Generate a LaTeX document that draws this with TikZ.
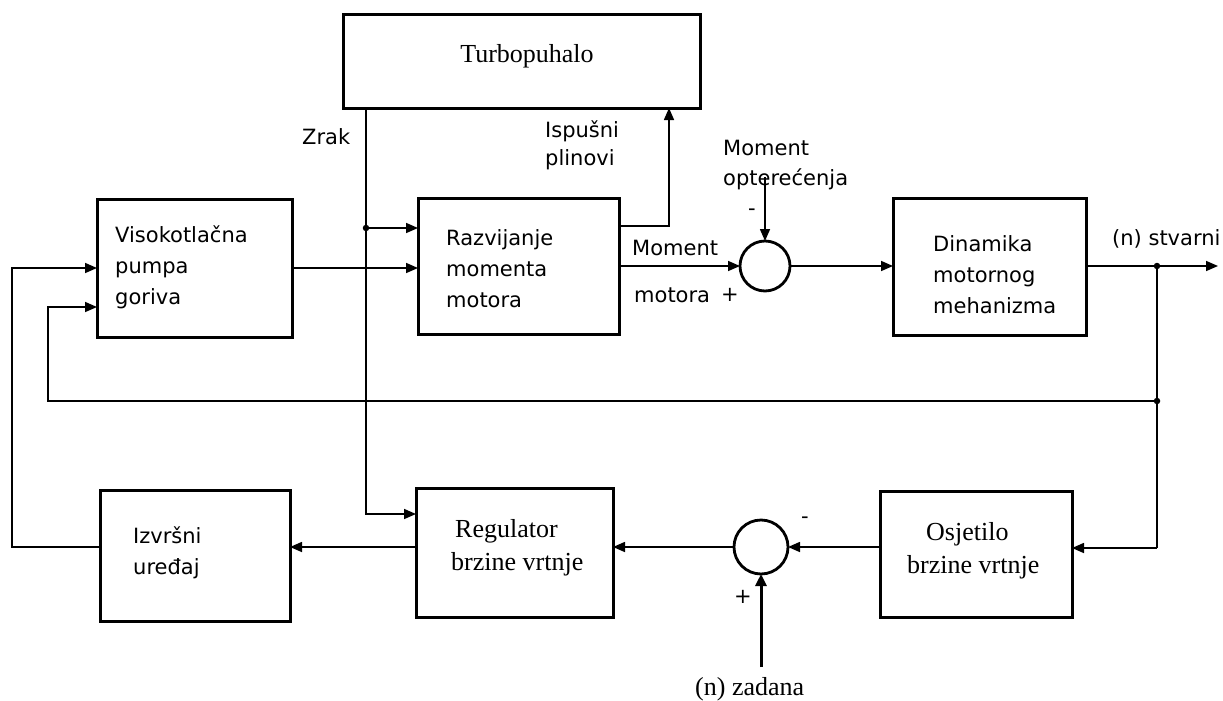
\documentclass[tikz,border=0pt]{standalone}
\usepackage{fontspec}
\setmainfont{Liberation Serif}
\newfontfamily\lblfont{DejaVu Sans}
\usetikzlibrary{arrows.meta}
\begin{document}
\begin{tikzpicture}[x=1pt,y=-1pt,
 box/.style={draw,line width=3pt,inner sep=0pt,outer sep=0pt,rectangle},
 sumnode/.style={draw,circle,line width=2.8pt,inner sep=0pt,outer sep=0pt},
 conn/.style={line width=1.6pt},
 arr/.style={conn,-{Triangle[length=12pt,width=10pt]}},
 sl/.style={font=\lblfont\fontsize{21}{25}\selectfont,inner sep=0pt,anchor=base west},
 rl/.style={font=\fontsize{26}{30}\selectfont,inner sep=0pt,anchor=base west},
 sgn/.style={font=\lblfont\fontsize{21}{25}\selectfont,inner sep=0pt},
 jdot/.style={circle,fill,inner sep=0pt,minimum size=6.5pt}]
\fill[white] (0,0) rectangle (1223,701);
\useasboundingbox (0,0) rectangle (1223,701);

% blocks
\node[box,minimum width=357pt,minimum height=93pt] (turbo) at (521.5,61.5) {};
\node[box,minimum width=195pt,minimum height=138pt] (pump) at (194.5,268) {};
\node[box,minimum width=201pt,minimum height=136pt] (razv) at (518.5,266) {};
\node[box,minimum width=193pt,minimum height=137pt] (dyn) at (989.5,266.5) {};
\node[box,minimum width=190pt,minimum height=131pt] (izv) at (195,555.5) {};
\node[box,minimum width=197pt,minimum height=129pt] (reg) at (514.5,552.5) {};
\node[box,minimum width=192pt,minimum height=126pt] (osj) at (976,554) {};
\node[sumnode,minimum size=50pt] (sum1) at (765,266) {};
\node[sumnode,minimum size=54pt] (sum2) at (761,547) {};

% texts
\node[rl,anchor=base] (tturbo) at (527,63) {Turbopuhalo};
\node[sl] (tpump1) at (115,242) {Visokotlačna};
\node[sl] (tpump2) at (115,273) {pumpa};
\node[sl] (tpump3) at (115,304) {goriva};
\node[sl] (trazv1) at (446,245) {Razvijanje};
\node[sl] (trazv2) at (446,276) {momenta};
\node[sl] (trazv3) at (446,307) {motora};
\node[sl] (tdyn1) at (933,251) {Dinamika};
\node[sl] (tdyn2) at (933,282) {motornog};
\node[sl] (tdyn3) at (933,313) {mehanizma};
\node[sl] (tizv1) at (133,543) {Izvršni};
\node[sl] (tizv2) at (133,574) {uređaj};
\node[rl] (treg1) at (455,537) {Regulator};
\node[rl] (treg2) at (451,570) {brzine vrtnje};
\node[rl] (tosj1) at (926,540) {Osjetilo};
\node[rl] (tosj2) at (907,573) {brzine vrtnje};
\node[rl] (tzad) at (695,695) {(n) zadana};
\node[sl] (tzrak) at (302,144) {Zrak};
\node[sl] (tisp1) at (545,137) {Ispušni};
\node[sl] (tisp2) at (545,165) {plinovi};
\node[sl] (tmo1) at (723,155) {Moment};
\node[sl] (tmo2) at (723,185) {opterećenja};
\node[sl] (tmm1) at (632,255) {Moment};
\node[sl] (tmm2) at (634,302) {motora};
\node[sl] (tstv) at (1112,245) {(n) stvarni};
\node[sgn] (s1m) at (752,212) {-};
\node[sgn] (s1p) at (730,295) {+};
\node[sgn] (s2m) at (805,520) {-};
\node[sgn] (s2p) at (743,597) {+};

% coordinates
\coordinate (j1) at (366,228);
\coordinate (zin) at (416,514);
\coordinate (ex) at (669,226);
\coordinate (mo) at (765,177);
\coordinate (j2) at (1157,266);
\coordinate (out) at (1218,266);
\coordinate (j3) at (1157,401);
\coordinate (fb) at (1157,548);
\coordinate (fbl) at (48,401);
\coordinate (p2) at (97,307);
\coordinate (fl) at (12,547);
\coordinate (zad) at (761,667);

% connectors
\draw[conn] (turbo.south -| j1) -- (j1);
\draw[arr] (j1) |- (zin);
\draw[arr] (j1) -- (j1 -| razv.west);
\draw[arr] (pump.east) -- (pump.east -| razv.west);
\draw[arr] (ex -| razv.east) -- (ex) -- (ex |- turbo.south);
\draw[arr] (razv.east) -- (sum1.west);
\draw[arr] (mo) -- (sum1.north);
\draw[arr] (sum1.east) -- (sum1.east -| dyn.west);
\draw[arr] (dyn.east |- j2) -- (out);
\draw[conn] (j2) -- (j3) -- (fb);
\draw[arr] (fb) -- (fb -| osj.east);
\draw[arr] (j3) -- (fbl) |- (p2);
\draw[arr] (sum2 -| osj.west) -- (sum2.east);
\draw[arr] (sum2.west) -- (sum2 -| reg.east);
\draw[arr] (sum2 -| reg.west) -- (sum2 -| izv.east);
\draw[arr] (izv.west |- fl) -- (fl) |- (pump.west);
\draw[line width=3pt,-{Triangle[length=12pt,width=11pt]}] (zad) -- (sum2.south);
\node[jdot] (d1) at (j1) {};
\node[jdot] (d2) at (j2) {};
\node[jdot] (d3) at (j3) {};
\end{tikzpicture}
\end{document}
